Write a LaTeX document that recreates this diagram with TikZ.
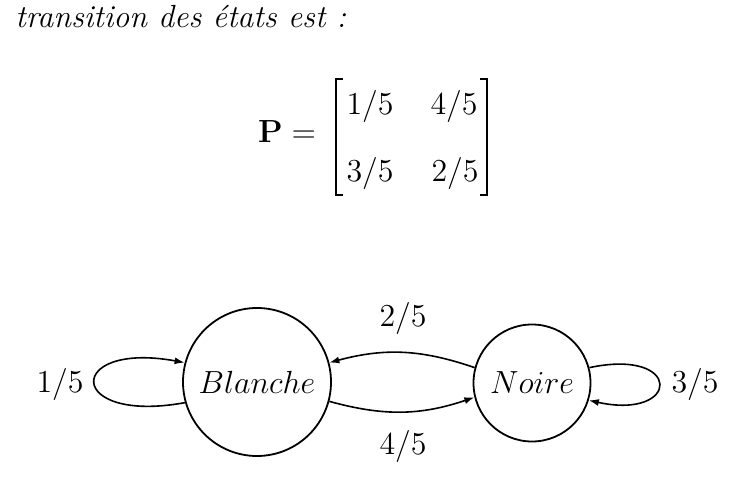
\RequirePackage{fix-cm}
\documentclass[tikz,border=0pt]{standalone}
\usepackage{amsmath}
\usetikzlibrary{arrows.meta}

\tikzset{
  etat/.style={circle, draw, line width=0.9pt, inner sep=0pt},
  fleche/.style={-{Latex[length=5pt,width=3.5pt]}, line width=0.8pt},
  proba/.style={anchor=base}
}

\begin{document}
\begin{tikzpicture}[x=0.5pt, y=-0.5pt, font=\fontsize{16}{19}\selectfont]
\useasboundingbox (0,0) rectangle (738,485);

% Intro line
\node[anchor=base west, inner sep=0pt] (intro) at (15,28) {\itshape transition des états est :};

% Transition matrix
\node (P) at (287,132) {$\mathbf{P} =$};
\node[proba] (p11) at (370,115) {$1/5$};
\node[proba] (p12) at (454,115) {$4/5$};
\node[proba] (p21) at (370,182) {$3/5$};
\node[proba] (p22) at (455,182) {$2/5$};
\draw[line width=1pt] (343,79) -- (336,79) -- (336,195) -- (343,195);
\draw[line width=1pt] (480,79) -- (487,79) -- (487,195) -- (480,195);

% States
\node[etat, minimum size=74pt] (blanche) at (257,382) {$Blanche$};
\node[etat, minimum size=58.5pt] (noire) at (532,383) {$Noire$};

% Transitions
\draw[fleche] (blanche.196) .. controls +(-120,22) and +(-120,-22) .. (blanche.165);
\draw[fleche] (noire.165) to[bend right=17] (blanche.15);
\draw[fleche] (blanche.-15) to[bend right=17] (noire.-166);
\draw[fleche] (noire.15) .. controls +(94,-20) and +(92,20) .. (noire.-17);

% Probabilities
\node[proba] (lbb) at (60,393) {$1/5$};
\node[proba] (lnb) at (403,327) {$2/5$};
\node[proba] (lbn) at (403,455) {$4/5$};
\node[proba] (lnn) at (695,393) {$3/5$};
\end{tikzpicture}
\end{document}
